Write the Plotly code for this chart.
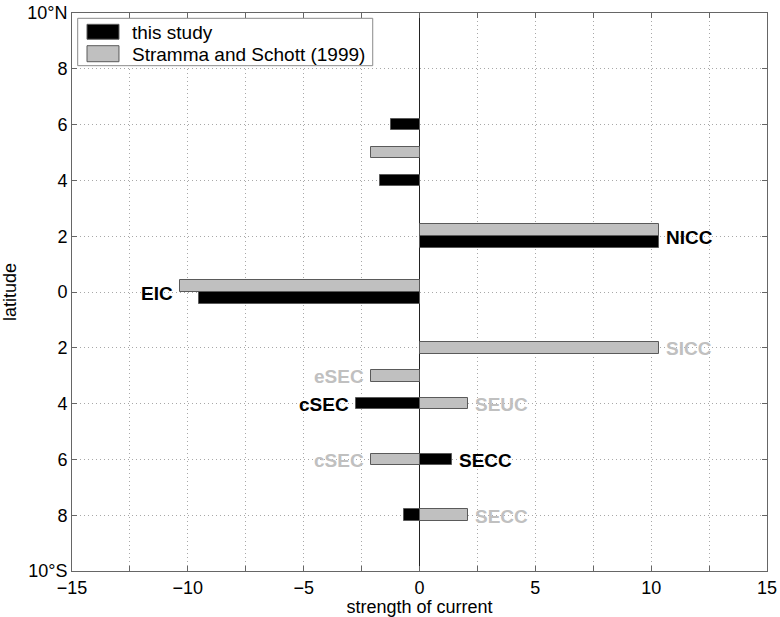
import numpy as np
import plotly.graph_objects as go

# Transport strength per latitude band (positive = eastward)
lat_study = [6, 4, 2, 0, -4, -6, -8]
flow_study = [-1.25, -1.7, 10.35, -9.5, -2.75, 1.4, -0.65]
name_study = ["", "", "NICC", "EIC", "cSEC", "SECC", ""]

lat_ss = [5, 2, 0, -2, -3, -4, -6, -8]
flow_ss = [-2.1, 10.35, -10.35, 10.35, -2.1, 2.1, -2.1, 2.1]
name_ss = ["", "", "", "SICC", "eSEC", "SEUC", "cSEC", "SECC"]

x_ticks = [-15, -12.5, -10, -7.5, -5, -2.5, 0, 2.5, 5, 7.5, 10, 12.5, 15]
x_labels = ["\u221215", "", "\u221210", "", "\u22125", "", "0", "", "5", "", "10", "", "15"]
y_ticks = [10, 8, 6, 4, 2, 0, -2, -4, -6, -8, -10]
y_labels = ["10°N", "8", "6", "4", "2", "0", "2", "4", "6", "8", "10°S"]

BLACK = "#000000"
GRAY = "#c0c0c0"
EDGE = "#5a5a5a"
FRAME = "#666666"
FONT = "Liberation Sans, Arial, Helvetica, sans-serif"
FS_AXIS = 18
FS_TEXT = 19
BAR_W = 0.42


def same_sign_pair(lat, val, other_lat, other_val):
    for la, v in zip(other_lat, other_val):
        if la == lat and np.sign(v) == np.sign(val):
            return True
    return False


# where both studies report a current of the same sign at one latitude,
# the older estimate sits just above and the new one just below
off_study = [-BAR_W if same_sign_pair(la, v, lat_ss, flow_ss) else -BAR_W / 2
             for la, v in zip(lat_study, flow_study)]
off_ss = [0.0 if same_sign_pair(la, v, lat_study, flow_study) else -BAR_W / 2
          for la, v in zip(lat_ss, flow_ss)]

fig = go.Figure()
fig.add_trace(go.Bar(
    name="Stramma and Schott (1999)", orientation="h",
    x=flow_ss, y=lat_ss, width=BAR_W, offset=off_ss,
    marker=dict(color=GRAY, line=dict(color=EDGE, width=1)),
    showlegend=False,
))
fig.add_trace(go.Bar(
    name="this study", orientation="h",
    x=flow_study, y=lat_study, width=BAR_W, offset=off_study,
    marker=dict(color=BLACK, line=dict(color=EDGE, width=1)),
    showlegend=False,
))

all_lat = lat_study + lat_ss
all_val = flow_study + flow_ss


def outer_end(lat, val):
    vals = [v for la, v in zip(all_lat, all_val) if la == lat and np.sign(v) == np.sign(val)]
    return max(vals) if val > 0 else min(vals)


annotations = []
for lats, vals, names, col in ((lat_study, flow_study, name_study, BLACK),
                               (lat_ss, flow_ss, name_ss, GRAY)):
    for la, v, nm in zip(lats, vals, names):
        if not nm:
            continue
        end = outer_end(la, v)
        annotations.append(dict(
            x=end, y=la, xref="x", yref="y", text=f"<b>{nm}</b>", showarrow=False,
            xanchor="left" if v > 0 else "right", yanchor="middle",
            xshift=5 if v > 0 else -5, yshift=-1,
            font=dict(family=FONT, size=FS_TEXT, color=col),
        ))

# legend box drawn in paper space
legend_items = [("this study", BLACK, 0.9797, 0.9530, 0.9659),
                ("Stramma and Schott (1999)", GRAY, 0.9414, 0.9127, 0.9265)]
shapes = [dict(type="rect", xref="paper", yref="paper", x0=0.0082, x1=0.4327,
               y0=0.9056, y1=0.9905, fillcolor="white",
               line=dict(color="#8a8a8a", width=1), layer="above")]
for label, col, top, bot, mid in legend_items:
    shapes.append(dict(type="rect", xref="paper", yref="paper", x0=0.0216, x1=0.0676,
                       y0=bot, y1=top, fillcolor=col,
                       line=dict(color=EDGE, width=1), layer="above"))
    annotations.append(dict(x=0.0835, y=mid, xref="paper", yref="paper", text=label,
                            showarrow=False, xanchor="left", yanchor="middle",
                            font=dict(family=FONT, size=FS_TEXT, color="black")))

axis_common = dict(
    showline=True, linecolor=FRAME, linewidth=1, mirror="ticks",
    ticks="inside", ticklen=5, tickcolor=FRAME, tickwidth=1,
    showgrid=True, gridcolor="#a8a8a8", gridwidth=1, griddash="1px,3px",
    tickfont=dict(family=FONT, size=FS_AXIS, color="black"),
    automargin=False,
)

fig.update_layout(
    width=780, height=617,
    margin=dict(l=72, r=13, t=13, b=46),
    paper_bgcolor="white", plot_bgcolor="white",
    barmode="overlay", bargap=0,
    font=dict(family=FONT, size=FS_AXIS, color="black"),
    xaxis=dict(range=[-15, 15], tickmode="array", tickvals=x_ticks, ticktext=x_labels,
               zeroline=True, zerolinecolor="#222222", zerolinewidth=1,
               title=dict(text="strength of current", standoff=0,
                          font=dict(family=FONT, size=FS_AXIS)),
               **axis_common),
    yaxis=dict(range=[-10, 10], tickmode="array", tickvals=y_ticks, ticktext=y_labels,
               zeroline=False,
               title=dict(text="latitude", standoff=5, font=dict(family=FONT, size=FS_AXIS)),
               **axis_common),
    shapes=shapes,
    annotations=annotations,
)

fig.write_html("out.html")
